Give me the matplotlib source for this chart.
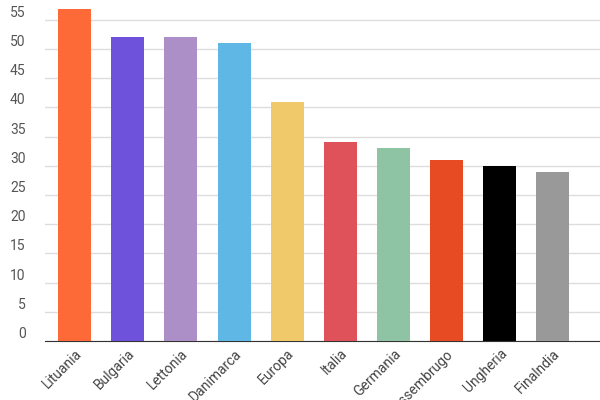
import matplotlib
matplotlib.use('Agg')
import matplotlib.pyplot as plt

countries = ['Lituania', 'Bulgaria', 'Lettonia', 'Danimarca', 'Europa', 'Italia',
             'Germania', 'Lussembrugo', 'Ungheria', 'Finalndia']
values = [56.8, 52, 52, 51, 41, 34, 33, 31, 30, 29]
colors = ['#fd6a37', '#6f52dc', '#ab8fc6', '#5fb7e5', '#f0c96a', '#df525a',
          '#8ec3a3', '#e64b23', '#000000', '#999999']
yticks = list(range(0, 60, 5))

plt.rcParams['font.family'] = ['Roboto', 'DejaVu Sans']
fig = plt.figure(figsize=(6, 4), dpi=100)
ax = fig.add_axes([0.075, 0.1475, 0.925, 0.8525])
x = range(len(countries))
ax.bar(x, values, width=0.62, color=colors, zorder=3)
ax.set_ylim(0, 58.4)
ax.set_xlim(-0.56, len(countries) - 0.11)
ax.set_yticks(yticks)
ax.set_yticklabels([str(v) for v in yticks], va='bottom', color='#555555', fontsize=10)
ax.tick_params(axis='y', length=0, pad=14)
ax.grid(axis='y', color='#dddddd', linewidth=1, zorder=0)
ax.set_xticks(list(x))
ax.set_xticklabels(countries, rotation=45, ha='right', rotation_mode='anchor',
                   fontsize=10, color='#444444')
ax.tick_params(axis='x', length=0, pad=4)
for s in ['top', 'right', 'left']:
    ax.spines[s].set_visible(False)
ax.spines['bottom'].set_color('#333333')
fig.savefig('out.png', dpi=100)
